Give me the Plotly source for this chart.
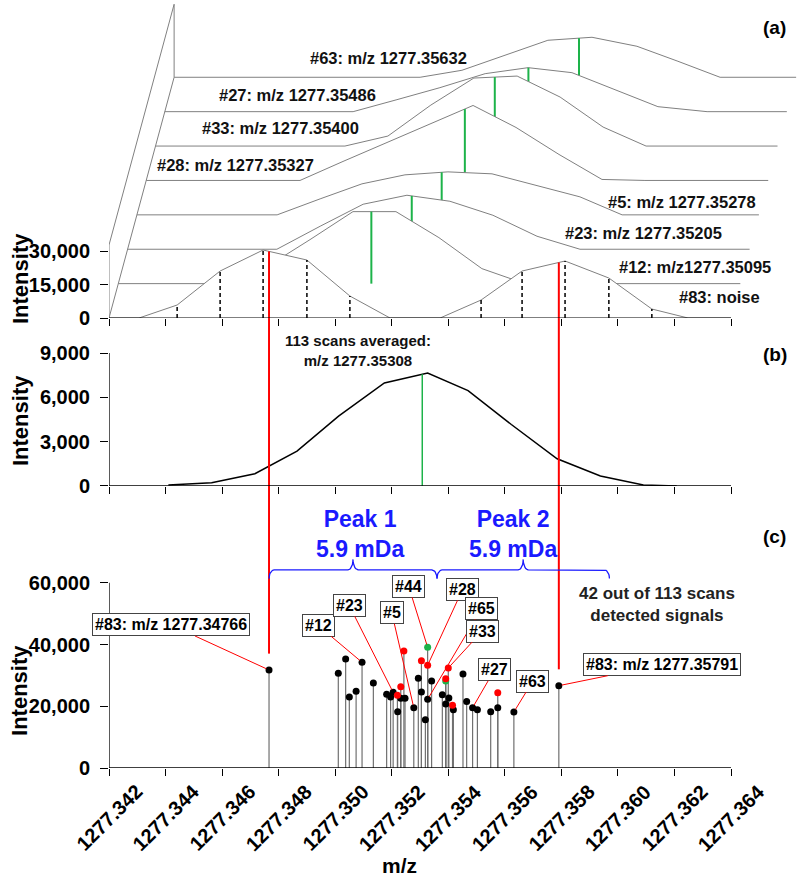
import numpy as np
import plotly.graph_objects as go

FONT = "Liberation Sans, Arial, sans-serif"

# ---------------- data ----------------
tick_labels = ["1277.342", "1277.344", "1277.346", "1277.348", "1277.350", "1277.352",
               "1277.354", "1277.356", "1277.358", "1277.360", "1277.362", "1277.364"]
tick_vals = [float(s) for s in tick_labels]

# (a) individual scans, front (#83) to back (#63)
noise83_mz = [1277.34306, 1277.34441, 1277.34593, 1277.34745, 1277.34900, 1277.35052, 1277.35194,
              1277.35371, 1277.35516, 1277.35661, 1277.35813, 1277.35968, 1277.36120, 1277.36248]
noise83_int = [0, 5820, 21050, 30450, 25970, 9850, 0, 0, 8060, 21050, 25520, 17910, 4030, 0]

scan12_mz = [1277.34630, 1277.34726, 1277.34878, 1277.35030, 1277.35182, 1277.35334, 1277.35486, 1277.35638]
scan12_int = [0, 7610, 19700, 32240, 32240, 20600, 6720, 0]

scan23_mz = [1277.34728, 1277.34881, 1277.35033, 1277.35188, 1277.35340, 1277.35492, 1277.35648, 1277.35800]
scan23_int = [0, 10300, 20150, 24180, 21490, 15220, 5820, 0]

scan5_mz = [1277.34696, 1277.34848, 1277.34996, 1277.35148, 1277.35300, 1277.35456, 1277.35608, 1277.35767, 1277.35916]
scan5_int = [0, 7160, 13880, 17910, 19250, 18360, 13430, 8060, 0]

scan28_mz = [1277.34744, 1277.34896, 1277.35052, 1277.35204, 1277.35356, 1277.35508, 1277.35660, 1277.35812, 1277.35964]
scan28_int = [0, 8510, 17020, 25070, 33580, 23730, 11640, 450, 0]

scan33_mz = [1277.34870, 1277.35022, 1277.35174, 1277.35326, 1277.35479, 1277.35631, 1277.35783, 1277.35935]
scan33_int = [0, 4480, 18360, 30450, 31340, 21940, 8510, 0]

scan27_mz = [1277.34866, 1277.35021, 1277.35173, 1277.35333, 1277.35485, 1277.35640, 1277.35792, 1277.35944, 1277.36118]
scan27_int = [0, 5370, 10750, 17020, 19700, 17460, 9850, 2240, 0]

scan63_mz = [1277.35070, 1277.35218, 1277.35370, 1277.35522, 1277.35678, 1277.35837, 1277.35982, 1277.36131]
scan63_int = [0, 3130, 9850, 16570, 17910, 13880, 7160, 0]

scan_labels = ["#83: noise", "#12: m/z1277.35095", "#23: m/z 1277.35205", "#5: m/z 1277.35278",
               "#28: m/z 1277.35327", "#33: m/z 1277.35400", "#27: m/z 1277.35486", "#63: m/z 1277.35632"]
scan_centroid = [None, 1277.35095, 1277.35205, 1277.35278, 1277.35327, 1277.35400, 1277.35486, 1277.35632]
scan_mz = [noise83_mz, scan12_mz, scan23_mz, scan5_mz, scan28_mz, scan33_mz, scan27_mz, scan63_mz]
scan_int = [noise83_int, scan12_int, scan23_int, scan5_int, scan28_int, scan33_int, scan27_int, scan63_int]

a_ytick_vals = [0, 15000, 30000]
a_ytick_text = ["0", "15,000", "30,000"]

# (b) averaged spectrum
avg_mz = [1277.34410, 1277.34563, 1277.34716, 1277.34865, 1277.35012, 1277.35174, 1277.35327,
          1277.35470, 1277.35623, 1277.35785, 1277.35938, 1277.36090, 1277.36208]
avg_int = [68, 225, 832, 2362, 4725, 6975, 7650, 6458, 4162, 1845, 675, 68, 0]
avg_centroid = 1277.35308
b_ytick_vals = [0, 3000, 6000, 9000]
b_ytick_text = ["0", "3,000", "6,000", "9,000"]

# (c) centroids of the 42 scans that detected signals
black_mz = [1277.34766, 1277.35011, 1277.35037, 1277.35050, 1277.35074, 1277.35095, 1277.35135,
            1277.35182, 1277.35196, 1277.35205, 1277.35221, 1277.35232, 1277.35247, 1277.35278,
            1277.35294, 1277.35305, 1277.35319, 1277.35327, 1277.35341, 1277.35379, 1277.35391,
            1277.35402, 1277.35418, 1277.35452, 1277.35465, 1277.35486, 1277.35503, 1277.35550,
            1277.35575, 1277.35632, 1277.35791]
black_int = [31770, 30700, 35300, 23000, 24860, 34250, 27550,
             23880, 23000, 24530, 18250, 22580, 22580, 19540,
             29070, 24630, 15660, 22260, 28200, 23770, 20740,
             22690, 18900, 30500, 21550, 19540, 18900, 18250,
             19540, 18150, 26680]
red_mz = [1277.35220, 1277.35232, 1277.35243, 1277.35305, 1277.35327, 1277.35391, 1277.35400, 1277.35415, 1277.35575]
red_int = [23560, 26350, 37920, 34780, 33290, 28900, 32410, 20310, 24400]
green_mz = [1277.35327, 1277.35391]
green_int = [39120, 28200]
c_ytick_vals = [0, 20000, 40000, 60000]
c_ytick_text = ["0", "20,000", "40,000", "60,000"]

label_text = ["#83: m/z 1277.34766", "#12", "#23", "#5", "#44", "#28", "#65", "#33", "#27", "#63",
              "#83: m/z 1277.35791"]
label_mz = [1277.34766, 1277.35095, 1277.35205, 1277.35278, 1277.35327, 1277.35327, 1277.35327,
            1277.35400, 1277.35486, 1277.35632, 1277.35791]
label_int = [31770, 34250, 24530, 19540, 39120, 33290, 22260, 32410, 19540, 18150, 26680]

noise_mz = [1277.34766, 1277.35791]   # the two #83 noise signals
peak_text = ["Peak 1<br>5.9 mDa", "Peak 2<br>5.9 mDa"]
brace_left = [1277.34766, 1277.35360]
brace_right = [1277.35360, 1277.35970]

# ---------------- layout / style constants ----------------
X_RANGE = [1277.342, 1277.36644]
A_TOP, B_TOP, C_TOP = 142400, 11370, 91400
DOM_A, DOM_B, DOM_C = [0.5859, 1.0], [0.3672, 0.5859], [0.0, 0.3672]
DX, DY, WALL_H = 0.000329, 15400, 32700   # pseudo-3D depth offset per scan
GRAY, GREEN, RED, BLUE = "#808080", "#1db34a", "#ff0000", "#1a1aff"
RED_GAP = 5300

A_LABEL_POS = [(1277.36361, 9400), (1277.36273, 22840), (1277.36089, 38060), (1277.36227, 51950),
               (1277.34646, 68510), (1277.34805, 85080), (1277.34868, 99860), (1277.35187, 116430)]
C_LABEL_OFF = [(-98, -45), (-44, -37), (-44, -87), (-22, -95), (-19, -61), (35, -76), (54, -91),
               (34, -37), (22, -38), (19, -31), (103, -21)]

fig = go.Figure()
AX = {"a": ("x", "y"), "b": ("x2", "y2"), "c": ("x3", "y3")}


def line(p, x, y, color, width, dash=None, **kw):
    xa, ya = AX[p]
    fig.add_trace(go.Scatter(x=x, y=y, mode="lines", xaxis=xa, yaxis=ya, hoverinfo="skip",
                             line=dict(color=color, width=width, dash=dash), **kw))


def segs(p, xs, y0s, y1s, color, width, dash=None):
    x, y = [], []
    for xi, a, b in zip(xs, y0s, y1s):
        x += [xi, xi, None]
        y += [a, b, None]
    line(p, x, y, color, width, dash)


MZ0, MZ1 = tick_vals[0], tick_vals[-1]
depth = len(scan_mz) - 1

# ---- (a) pseudo-3D stack ----
line("a", [MZ0, MZ0 + depth * DX, MZ0 + depth * DX, MZ0, MZ0],
     [0, depth * DY, depth * DY + WALL_H, WALL_H, 0], GRAY, 1)
for k in range(depth, -1, -1):
    xs = [MZ0] + scan_mz[k] + [MZ1]
    ys = [0] + scan_int[k] + [0]
    line("a", [v + k * DX for v in xs], [v + k * DY for v in ys], GRAY, 1,
         fill="toself", fillcolor="white")
    c = scan_centroid[k]
    if c is not None:
        top = float(np.interp(c, scan_mz[k], scan_int[k]))
        segs("a", [c + k * DX], [k * DY], [top + k * DY], GREEN, 2)
nz = [(m, i) for m, i in zip(noise83_mz, noise83_int) if i > 0]
segs("a", [m for m, _ in nz], [0] * len(nz), [i for _, i in nz], "black", 1.5, dash="4px,3px")
noise_top = [float(np.interp(m, noise83_mz, noise83_int)) for m in noise_mz]
segs("a", noise_mz, noise_top, [0, 0], RED, 2)
line("a", [MZ0, MZ1], [0, 0], "black", 1.3)

# ---- (b) averaged ----
line("b", avg_mz, avg_int, "black", 1.5)
segs("b", [avg_centroid], [0], [float(np.interp(avg_centroid, avg_mz, avg_int))], GREEN, 1.5)
segs("b", noise_mz, [0, 0], [B_TOP, B_TOP], RED, 2)
line("b", [MZ0, MZ1], [0, 0], "black", 1.3)
line("b", [MZ0, MZ0], [0, b_ytick_vals[-1]], "black", 1.3)

# ---- (c) centroid stems ----
all_mz = black_mz + red_mz + green_mz
all_int = black_int + red_int + green_int
segs("c", all_mz, [0] * len(all_mz), all_int, "#707070", 1.2)
for mzs, ints, col in [(black_mz, black_int, "black"), (green_mz, green_int, GREEN), (red_mz, red_int, RED)]:
    fig.add_trace(go.Scatter(x=mzs, y=ints, mode="markers", xaxis="x3", yaxis="y3", hoverinfo="skip",
                             marker=dict(color=col, size=7, line=dict(width=0))))
noise_c = [black_int[black_mz.index(m)] for m in noise_mz]
segs("c", noise_mz, [C_TOP, C_TOP], [v + RED_GAP for v in noise_c], RED, 2)
line("c", [MZ0, MZ1], [0, 0], "black", 1.3)
line("c", [MZ0, MZ0], [0, c_ytick_vals[-1]], "black", 1.3)


def brace(x0, x1, yb, ye, yt, rx):
    xm = (x0 + x1) / 2
    t = np.linspace(0, np.pi / 2, 10)
    xs = list(x0 + rx * (1 - np.cos(t))) + list(xm - rx + rx * np.sin(t)) + \
        list(xm + rx * (1 - np.cos(t))) + list(x1 - rx + rx * np.sin(t))
    ys = list(ye + (yb - ye) * np.sin(t)) + list(yb + (yt - yb) * (1 - np.cos(t))) + \
        list(yt - (yt - yb) * np.sin(t)) + list(yb - (yb - ye) * (1 - np.cos(t)))
    return xs, ys


for x0, x1 in zip(brace_left, brace_right):
    bx, by = brace(x0, x1, 64200, 61400, 67600, 0.00018)
    line("c", bx, by, BLUE, 1.3)

# ---------------- annotations ----------------
ann = []
for txt, (mx, iy) in zip(scan_labels, A_LABEL_POS):
    ann.append(dict(x=mx, y=iy, xref="x", yref="y", text=txt, showarrow=False,
                    font=dict(family=FONT, size=16.5, color="#111", weight="bold")))
for txt, mx, iy, (ox, oy) in zip(label_text, label_mz, label_int, C_LABEL_OFF):
    ann.append(dict(x=mx, y=iy, xref="x3", yref="y3", text=txt, showarrow=True, ax=ox, ay=oy,
                    arrowhead=0, arrowwidth=1, arrowcolor=RED, standoff=3,
                    bgcolor="white", bordercolor="#444", borderwidth=1, borderpad=2,
                    font=dict(family=FONT, size=16, color="black", weight="bold")))
ann.append(dict(x=1277.35081, y=9200, xref="x2", yref="y2", text="113 scans averaged:<br>m/z 1277.35308",
                showarrow=False, font=dict(family=FONT, size=15, color="#111", weight="bold")))
for txt, mx in zip(peak_text, [1277.35088, 1277.35629]):
    ann.append(dict(x=mx, y=75840, xref="x3", yref="y3", text=txt, showarrow=False,
                    font=dict(family=FONT, size=23, color=BLUE, weight="bold")))
ann.append(dict(x=1277.36138, y=53150, xref="x3", yref="y3", text="42 out of 113 scans<br>detected signals",
                showarrow=False, font=dict(family=FONT, size=17, color="#222", weight="bold")))
for txt, py in [("(a)", 0.9648), ("(b)", 0.5378), ("(c)", 0.3008)]:
    ann.append(dict(x=0.9638, y=py, xref="paper", yref="paper", xanchor="center", yanchor="middle",
                    text=txt, showarrow=False,
                    font=dict(family=FONT, size=19, color="black", weight="bold")))
for py in [0.6380, 0.4531, 0.1016]:
    ann.append(dict(x=-0.1288, y=py, xref="paper", yref="paper", xanchor="center", yanchor="middle",
                    text="Intensity", textangle=-90, showarrow=False,
                    font=dict(family=FONT, size=22, color="black", weight="bold")))
ann.append(dict(x=0.4211, y=-0.1276, xref="paper", yref="paper", xanchor="center", yanchor="middle",
                text="m/z", showarrow=False, font=dict(family=FONT, size=21, color="black", weight="bold")))
# Excel-style rotated tick labels, centred under each tick
for tv, tl in zip(tick_vals, tick_labels):
    ann.append(dict(x=tv, y=-0.0651, xref="x3", yref="paper", xanchor="center", yanchor="middle",
                    text=tl, textangle=-45, showarrow=False,
                    font=dict(family=FONT, size=20, color="black", weight="bold")))

tickfont = dict(family=FONT, size=20, color="black", weight="bold")
xcommon = dict(range=X_RANGE, tickvals=tick_vals, ticks="outside", ticklen=7, showticklabels=False,
               tickcolor="black", tickwidth=1.2, showgrid=False, zeroline=False, showline=False,
               automargin=False)
ycommon = dict(ticks="outside", ticklen=8, tickcolor="black", tickwidth=1.2, showgrid=False,
               zeroline=False, showline=False, tickfont=tickfont, automargin=False,
               ticklabelstandoff=6)

fig.update_layout(
    width=800, height=878, margin=dict(l=109, r=0, t=0, b=110),
    plot_bgcolor="white", paper_bgcolor="white", showlegend=False, annotations=ann,
    xaxis=dict(domain=[0, 1], anchor="y", **xcommon),
    xaxis2=dict(domain=[0, 1], anchor="y2", matches="x", **xcommon),
    xaxis3=dict(domain=[0, 1], anchor="y3", matches="x", **xcommon),
    yaxis=dict(domain=DOM_A, anchor="x", range=[0, A_TOP], tickvals=a_ytick_vals, ticktext=a_ytick_text, **ycommon),
    yaxis2=dict(domain=DOM_B, anchor="x2", range=[0, B_TOP], tickvals=b_ytick_vals, ticktext=b_ytick_text, **ycommon),
    yaxis3=dict(domain=DOM_C, anchor="x3", range=[0, C_TOP], tickvals=c_ytick_vals, ticktext=c_ytick_text, **ycommon),
)

fig.write_html("out.html", config={"displayModeBar": False},
               post_script="document.body.style.margin='0px';")
